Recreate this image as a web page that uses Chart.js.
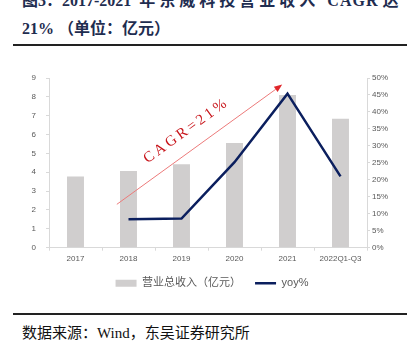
<!DOCTYPE html>
<html>
<head>
<meta charset="utf-8">
<script src="https://cdn.jsdelivr.net/npm/chart.js@4.4.1/dist/chart.umd.min.js"></script>
<style>
  html,body{margin:0;padding:0;background:#fff;}
  body{width:413px;height:356px;overflow:hidden;position:relative;}
  .title{position:absolute;left:22px;white-space:nowrap;color:#1f2d50;font-weight:bold;font-size:16px;line-height:16px;font-family:'Liberation Serif','Noto Sans CJK SC',serif;}
  .rule{position:absolute;left:13px;width:394px;height:2px;background:#222;}
  .src{position:absolute;left:22px;top:325px;white-space:nowrap;color:#111;font-size:15px;line-height:16px;font-family:'Liberation Serif','Noto Sans CJK SC',serif;}
  #wrap{position:absolute;left:0;top:60px;width:413px;height:250px;}
</style>
</head>
<body>
<div class="title" style="top:-7px"><span>图3：</span><span>2017-2021</span><span style="letter-spacing:4px"> 年东威科技营业收入 </span><span style="letter-spacing:1px">CAGR</span><span> 达</span></div>
<div class="title" style="top:21px">21% （单位：亿元）</div>
<div class="rule" style="top:44px"></div>
<div id="wrap"><canvas id="c"></canvas></div>
<div class="rule" style="top:313px"></div>
<div class="src">数据来源：Wind，东吴证券研究所</div>
<script>
const categories = ['2017', '2018', '2019', '2020', '2021', '2022Q1-Q3'];
const revenue = [3.77, 4.07, 4.43, 5.55, 8.10, 6.84];
const yoy = [null, 8.4, 8.6, 25.2, 45.4, 21.0];
const leftTicks = [0, 1, 2, 3, 4, 5, 6, 7, 8, 9];
const rightTicks = [0, 5, 10, 15, 20, 25, 30, 35, 40, 45, 50];
const seriesNames = ['营业总收入（亿元）', 'yoy%'];
const cagrLabel = 'CAGR=21%';
// arrow in data coordinates: [category index, left-axis value]
const cagrFrom = [0.78, 2.3];
const cagrTo = [3.9, 8.65];

Chart.defaults.font.family = "'Liberation Sans', Arial, 'Noto Sans CJK SC', sans-serif";
Chart.defaults.color = '#595959';

const axisGray = '#d9d9d9';

const cagrPlugin = {
  id: 'cagr',
  afterDatasetsDraw(chart) {
    const {ctx, scales} = chart;
    const x0 = scales.x.getPixelForValue(cagrFrom[0]);
    const y0 = scales.y.getPixelForValue(cagrFrom[1]);
    const x1 = scales.x.getPixelForValue(cagrTo[0]);
    const y1 = scales.y.getPixelForValue(cagrTo[1]);
    const len = Math.hypot(x1 - x0, y1 - y0);
    const dx = (x1 - x0) / len, dy = (y1 - y0) / len;
    const head = 8, hw = 3.2;
    ctx.save();
    ctx.strokeStyle = '#ec7a7a';
    ctx.lineWidth = 1;
    ctx.beginPath();
    ctx.moveTo(x0, y0);
    ctx.lineTo(x1 - dx * head, y1 - dy * head);
    ctx.stroke();
    ctx.fillStyle = '#e0262a';
    ctx.beginPath();
    ctx.moveTo(x1, y1);
    ctx.lineTo(x1 - dx * head - dy * hw, y1 - dy * head + dx * hw);
    ctx.lineTo(x1 - dx * head + dy * hw, y1 - dy * head - dx * hw);
    ctx.closePath();
    ctx.fill();
    const t = 0.48, off = 19;
    const cx = x0 + (x1 - x0) * t + dy * off;
    const cy = y0 + (y1 - y0) * t - dx * off;
    ctx.translate(cx, cy);
    ctx.rotate(Math.atan2(dy, dx));
    ctx.font = "15px 'Liberation Serif', serif";
    ctx.fillStyle = '#c8151b';
    ctx.textBaseline = 'middle';
    ctx.textAlign = 'left';
    const spacing = 3;
    const chars = cagrLabel.split('');
    const widths = chars.map(c => ctx.measureText(c).width);
    const total = widths.reduce((a, b) => a + b, 0) + spacing * (chars.length - 1);
    let px = -total / 2;
    chars.forEach((c, i) => { ctx.fillText(c, px, 0); px += widths[i] + spacing; });
    ctx.restore();
  }
};

new Chart(document.getElementById('c'), {
  type: 'bar',
  data: {
    labels: categories,
    datasets: [
      {
        label: seriesNames[0],
        data: revenue,
        backgroundColor: '#d0cece',
        borderWidth: 0,
        barPercentage: 0.32,
        categoryPercentage: 1,
        yAxisID: 'y',
        order: 1,
        pointStyle: 'rect'
      },
      {
        type: 'line',
        label: seriesNames[1],
        data: yoy,
        borderColor: '#0b1f5e',
        backgroundColor: '#0b1f5e',
        borderWidth: 2.5,
        pointRadius: 0,
        tension: 0,
        yAxisID: 'y1',
        order: 0,
        pointStyle: 'line'
      }
    ]
  },
  options: {
    responsive: true,
    maintainAspectRatio: false,
    animation: false,
    layout: { padding: { top: 18, left: 11, right: 0, bottom: 11.3 } },
    plugins: {
      tooltip: { enabled: false },
      legend: {
        position: 'bottom',
        labels: {
          usePointStyle: true,
          pointStyleWidth: 21,
          boxWidth: 21,
          boxHeight: 7,
          padding: 14,
          color: '#595959',
          font: { size: 11, family: "'Liberation Sans', Arial, 'Noto Sans CJK SC', sans-serif" },
          sort: (a, b) => a.datasetIndex - b.datasetIndex
        }
      }
    },
    scales: {
      x: {
        offset: true,
        grid: { display: true, drawOnChartArea: false, drawTicks: true, tickLength: 3, color: axisGray, offset: true },
        border: { color: axisGray, width: 1 },
        ticks: { font: { size: 8 }, color: '#595959', padding: 3, maxRotation: 0, autoSkip: false },
        afterFit(s) { s.height = 16; }
      },
      y: {
        position: 'left',
        min: 0, max: 9,
        afterBuildTicks(s) { s.ticks = leftTicks.map(v => ({ value: v })); },
        grid: { drawOnChartArea: false, drawTicks: true, tickLength: 3, color: axisGray },
        border: { color: axisGray, width: 1 },
        ticks: { font: { size: 8 }, color: '#595959', padding: 10 },
        afterFit(s) { s.width = 38; }
      },
      y1: {
        position: 'right',
        min: 0, max: 50,
        afterBuildTicks(s) { s.ticks = rightTicks.map(v => ({ value: v })); },
        grid: { drawOnChartArea: false, drawTicks: true, tickLength: 3, color: axisGray },
        border: { color: axisGray, width: 1 },
        ticks: { font: { size: 8 }, color: '#595959', padding: 2, callback: v => v + '%' },
        afterFit(s) { s.width = 46; }
      }
    }
  },
  plugins: [cagrPlugin]
});
</script>
</body>
</html>
